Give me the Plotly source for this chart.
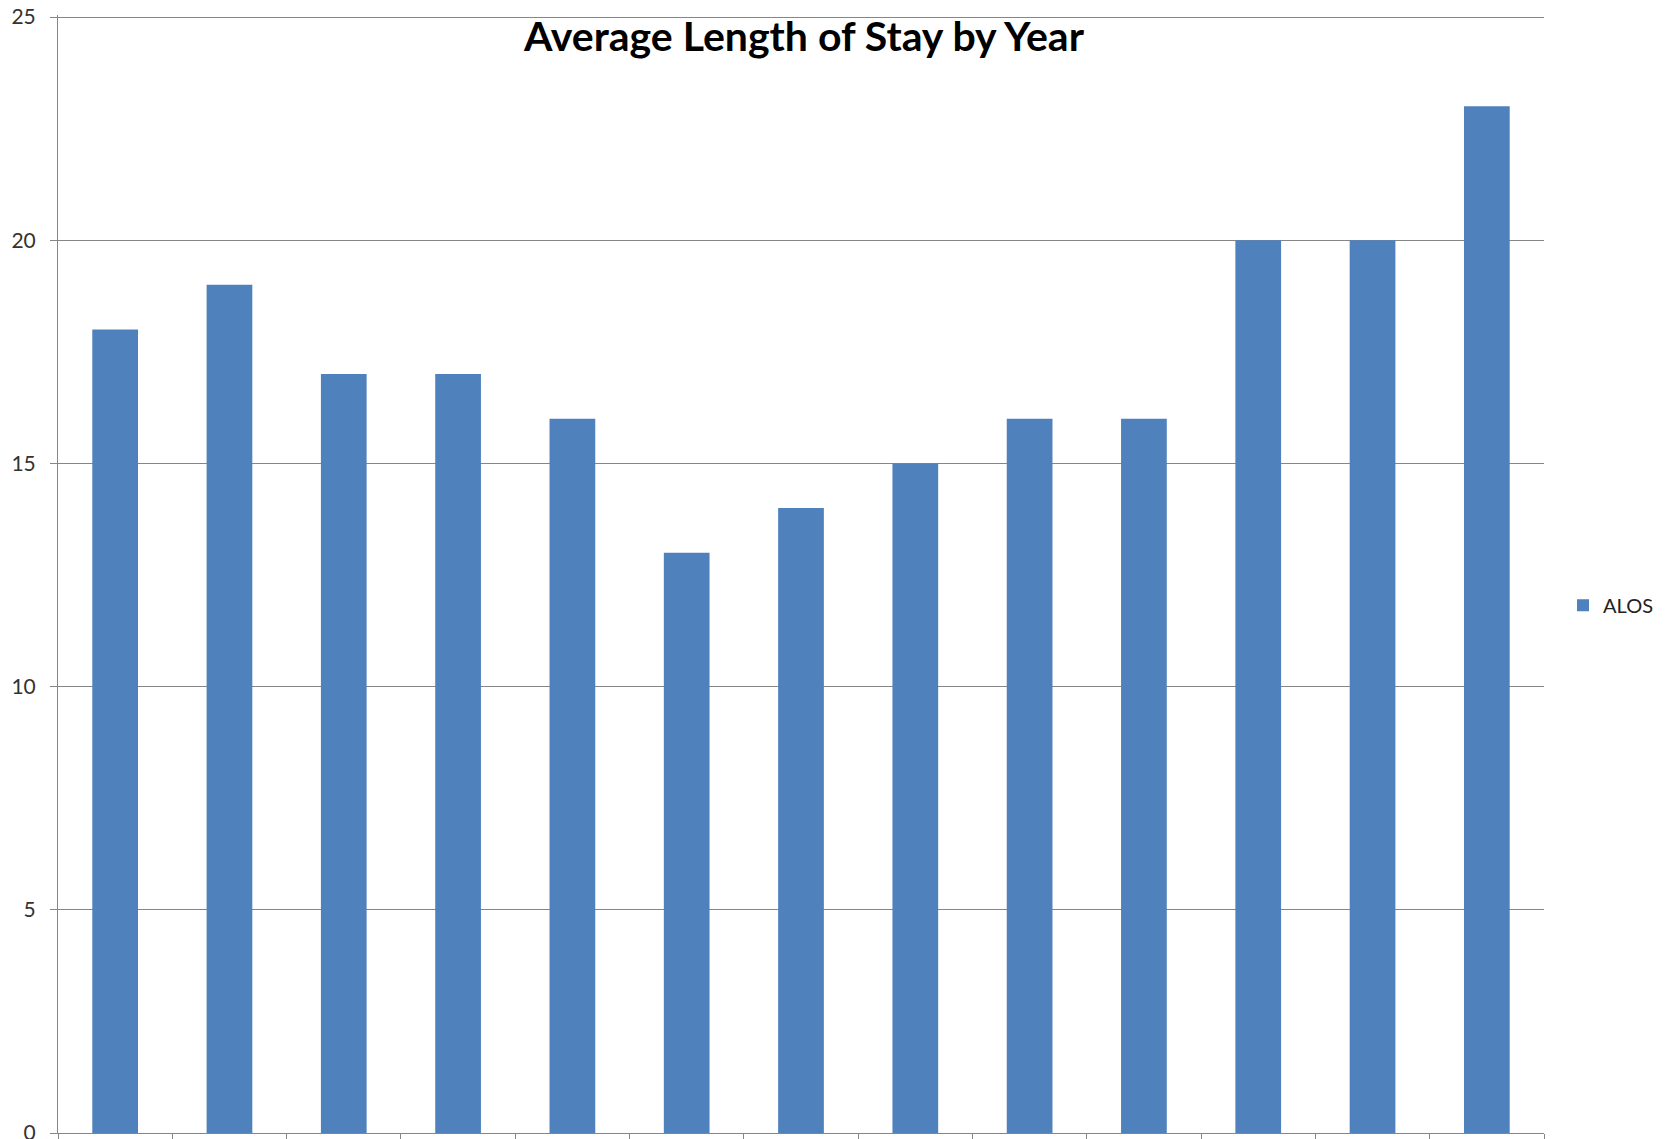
import plotly.graph_objects as go

categories = [str(i) for i in range(1, 14)]
alos = [18, 19, 17, 17, 16, 13, 14, 15, 16, 16, 20, 20, 23]
y_ticks = [0, 5, 10, 15, 20, 25]

# the page body has an 8px margin; figure sized so it ends at the window edge
OFF = 8
W, H = 1665 - OFF, 1139 - OFF
L, T = 58 - OFF, 15 - OFF
R = W - (1544 - OFF)
B = H - (1133 - OFF)
# a little headroom above 25 so its gridline is drawn (plotly drops lines at the very edge)
Y_MAX = 25 * (1133 - 15) / (1133 - 17)

fig = go.Figure()
fig.add_trace(go.Bar(
    x=categories, y=alos, name="ALOS",
    marker=dict(color="#4F81BD", line=dict(width=0)),
))

fig.update_layout(
    width=W, height=H,
    margin=dict(l=L, r=R, t=T, b=B, pad=0, autoexpand=False),
    paper_bgcolor="white", plot_bgcolor="white",
    bargap=0.6,
    font=dict(family="Lato", size=20, color="#333333"),
    title=dict(text="<b>Average Length of Stay by Year</b>",
               x=(804 - OFF) / W, xanchor="center", xref="container",
               y=1 - (37 - OFF) / H, yanchor="middle",
               font=dict(family="Lato", size=41, color="black")),
    showlegend=True,
    legend=dict(x=1.0128, xanchor="left", y=0.472, yanchor="middle",
                font=dict(family="Lato", size=20, color="#222222"),
                bgcolor="rgba(0,0,0,0)"),
    xaxis=dict(type="category", showticklabels=False, tickson="boundaries",
               ticks="outside", ticklen=7, tickcolor="#868686", automargin=False,
               showline=True, linecolor="#868686", linewidth=1,
               showgrid=False, zeroline=False),
    yaxis=dict(range=[0, Y_MAX], tickvals=y_ticks, ticks="outside", ticklen=7,
               tickcolor="#868686", showline=True, linecolor="#868686", linewidth=1,
               showgrid=True, gridcolor="#868686", gridwidth=1, zeroline=False,
               ticklabelstandoff=10, automargin=False, ticklabeloverflow="allow",
               tickfont=dict(family="Lato", size=21, color="#333333")),
)

fig.write_html("out.html")
